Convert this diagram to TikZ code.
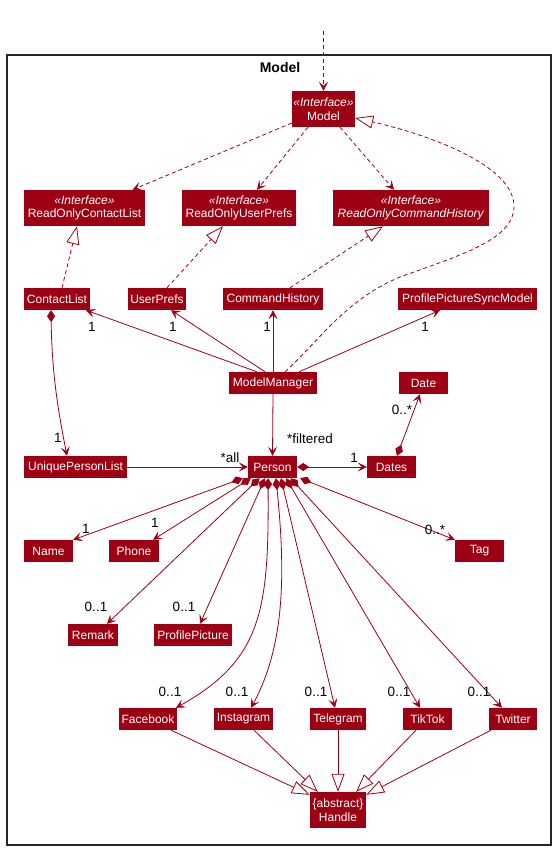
\documentclass[tikz,border=0pt]{standalone}
\usepackage{fontspec}
\setmainfont{Liberation Sans}
\usetikzlibrary{arrows.meta}
\definecolor{mc}{HTML}{9D0012}
\tikzset{
  cls/.style={fill=mc, text=white, inner sep=0pt, minimum height=22pt, font=\fontsize{12}{14}\selectfont, align=center},
  ifc/.style={cls, minimum height=36pt, font=\fontsize{12}{13.5}\selectfont},
  lbl/.style={inner sep=0pt, font=\fontsize{13.5}{15}\selectfont, text=black},
  conn/.style={draw=mc, line width=0.8pt},
  deparr/.style={conn, dash pattern=on 4pt off 3pt, -{Stealth[length=9pt,width=9pt,inset=4pt,fill=mc]}},
  assocarr/.style={conn, -{Stealth[length=9pt,width=9pt,inset=4pt,fill=mc]}},
  realarr/.style={conn, dash pattern=on 4pt off 3pt, -{Triangle[open,length=18pt,width=13pt,fill=white]}},
  genarr/.style={conn, -{Triangle[open,length=18pt,width=13pt,fill=white]}},
  compoarr/.style={conn, {Diamond[length=12pt,width=8pt,fill=mc]}-{Stealth[length=9pt,width=9pt,inset=4pt,fill=mc]}},
}
\begin{document}
\begin{tikzpicture}[x=1pt,y=-1pt]
\useasboundingbox (0,0) rectangle (556,850);
% frame
\draw[line width=1.2pt, black!85] (7,55) rectangle (551,845);
\node[font=\fontsize{14}{16}\selectfont\bfseries, inner sep=0pt] (title) at (280,67) {Model};

% nodes
\node[ifc, minimum width=63pt] (model) at (323.5,109) {\textit{«Interface»}\\Model};
\node[ifc, minimum width=121pt] (rocl) at (84.5,208) {\textit{«Interface»}\\ReadOnlyContactList};
\node[ifc, minimum width=114pt] (roup) at (239,208) {\textit{«Interface»}\\ReadOnlyUserPrefs};
\node[ifc, minimum width=156pt] (roch) at (411,208) {\textit{«Interface»}\\\textit{ReadOnlyCommandHistory}};
\node[cls, minimum width=66pt] (cl) at (57,299) {ContactList};
\node[cls, minimum width=58pt] (up) at (157,299) {UserPrefs};
\node[cls, minimum width=100pt] (ch) at (273,299) {CommandHistory};
\node[cls, minimum width=139pt] (ppsm) at (467.5,299) {ProfilePictureSyncModel};
\node[cls, minimum width=88pt] (mm) at (273,383) {ModelManager};
\node[cls, minimum width=49pt] (date) at (423.5,383) {Date};
\node[cls, minimum width=103pt] (upl) at (75.5,467) {UniquePersonList};
\node[cls, minimum width=49pt] (person) at (272.5,467) {Person};
\node[cls, minimum width=49pt] (dates) at (391.5,467) {Dates};
\node[cls, minimum width=49pt] (name) at (48.5,551) {Name};
\node[cls, minimum width=50pt] (phone) at (134,551) {Phone};
\node[cls, minimum width=49pt] (tag) at (479.5,551) {Tag};
\node[cls, minimum width=50pt] (remark) at (93,635) {Remark};
\node[cls, minimum width=78pt] (pp) at (193,635) {ProfilePicture};
\node[cls, minimum width=58pt] (fb) at (148,719) {Facebook};
\node[cls, minimum width=59pt] (ig) at (243.5,719) {Instagram};
\node[cls, minimum width=56pt] (tg) at (338,719) {Telegram};
\node[cls, minimum width=49pt] (tt) at (427.5,719) {TikTok};
\node[cls, minimum width=48pt] (tw) at (513,719) {Twitter};
\node[ifc, minimum width=56pt] (handle) at (338,810) {\{abstract\}\\Handle};

% external dependency
\coordinate (ext) at (323.5,31);
\draw[deparr] (ext) -- (model.north);

% Model -> read-only interfaces
\draw[deparr] ([yshift=-14pt]model.west) -- ([xshift=48pt]rocl.north);
\draw[deparr] ([xshift=-15.5pt]model.south) -- ([xshift=18pt]roup.north);
\draw[deparr] ([xshift=16.5pt]model.south) -- ([xshift=-17pt]roch.north);

% ModelManager realizes Model
\draw[realarr] ([xshift=12pt]mm.north) .. controls (320,340) and (345,300) .. (400,277)
  .. controls (460,255) and (515,240) .. (514,205)
  .. controls (512,165) and (430,135) .. ([yshift=-9pt]model.east);

% realizations
\draw[realarr] ([xshift=5pt]cl.north) -- ([xshift=-7.5pt]rocl.south);
\draw[realarr] ([xshift=10pt]up.north) -- ([xshift=-16pt]roup.south);
\draw[realarr] ([xshift=17pt]ch.north) -- ([xshift=-28pt]roch.south);

% ModelManager associations
\draw[assocarr] ([xshift=-16pt]mm.north) -- ([xshift=29pt]cl.south);
\draw[assocarr] ([xshift=-8pt]mm.north) -- ([xshift=14pt]up.south);
\draw[assocarr] (mm.north) -- (ch.south);
\draw[assocarr] ([xshift=26pt]mm.north) -- ([xshift=-27.5pt]ppsm.south);
\draw[assocarr] (mm.south) -- (person.north);
\node[lbl] (l1) at (92,327) {1};
\node[lbl] (l2) at (173,327) {1};
\node[lbl] (l3) at (267,327) {1};
\node[lbl] (l4) at (425,327) {1};
\node[lbl] (l5) at (310,439) {*filtered};

% ContactList -> UniquePersonList
\draw[compoarr] ([xshift=-6pt]cl.south) .. controls (52,380) and (60,420) .. ([xshift=-8.5pt]upl.north);
\node[lbl] (l6) at (58,438) {1};

% Dates -> Date
\draw[compoarr] ([xshift=5.5pt]dates.north) -- ([xshift=-3.5pt]date.south);
\node[lbl] (l7) at (402,410) {0..*};

% UniquePersonList -> Person, Person -> Dates
\draw[assocarr] (upl.east) -- (person.west);
\node[lbl] (l8) at (230,458) {*all};
\draw[compoarr] (person.east) -- (dates.west);
\node[lbl] (l9) at (354,458) {1};

% Person compositions
\draw[compoarr] ([xshift=-5pt]person.south west) -- (name.north east);
\node[lbl] (l10) at (86,529) {1};
\draw[compoarr] ([xshift=3pt]person.south west) -- ([xshift=19pt]phone.north);
\node[lbl] (l11) at (155,523) {1};
\draw[compoarr] ([xshift=3pt]person.south east) -- (tag.north west);
\node[lbl] (l12) at (435,530) {0..*};
\draw[compoarr] ([xshift=-13pt]person.south) -- ([xshift=14pt]remark.north);
\node[lbl] (l13) at (96,607) {0..1};
\draw[compoarr] ([xshift=-7.5pt]person.south) -- ([xshift=7pt]pp.north);
\node[lbl] (l14) at (184,607) {0..1};
\draw[compoarr] ([xshift=-4.5pt]person.south) .. controls (269,610) and (262,660) .. ([xshift=28pt]fb.north);
\node[lbl] (l15) at (170,692) {0..1};
\draw[compoarr] ([xshift=3.5pt]person.south) .. controls (284,560) and (288,640) .. ([xshift=7.5pt]ig.north);
\node[lbl] (l16) at (237,692) {0..1};
\draw[compoarr] ([xshift=8.5pt]person.south) -- ([xshift=-3pt]tg.north);
\node[lbl] (l17) at (316,692) {0..1};
\draw[compoarr] ([xshift=13.5pt]person.south) -- ([xshift=-7.5pt]tt.north);
\node[lbl] (l18) at (399,692) {0..1};
\draw[compoarr] ([xshift=18pt]person.south) -- ([xshift=-11pt]tw.north);
\node[lbl] (l19) at (479,692) {0..1};

% Handle generalizations
\draw[genarr] ([xshift=23pt]fb.south) -- ([yshift=-3pt]handle.north west);
\draw[genarr] ([xshift=10.5pt]ig.south) -- ([xshift=8pt]handle.north west);
\draw[genarr] (tg.south) -- (handle.north);
\draw[genarr] ([xshift=-11.5pt]tt.south) -- ([xshift=-10pt]handle.north east);
\draw[genarr] ([xshift=-22pt]tw.south) -- ([yshift=-3pt]handle.north east);
\end{tikzpicture}
\end{document}
